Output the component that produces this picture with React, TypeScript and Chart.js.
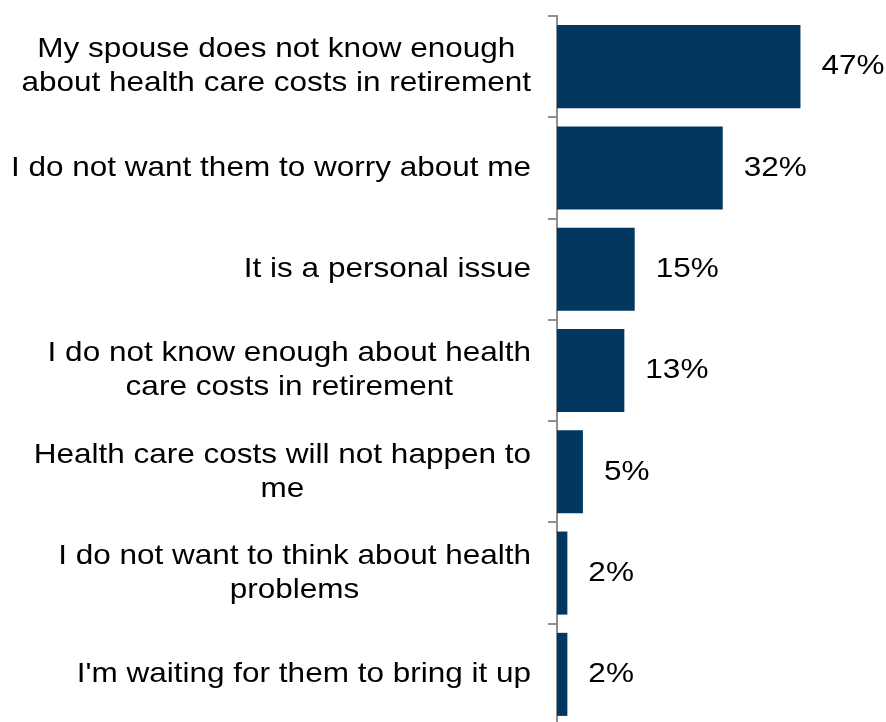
import React, { useEffect, useRef } from "react";
import { Chart, registerables } from "chart.js";

Chart.register(...registerables);

const categories: (string | string[])[] = [
  ["My spouse does not know enough", "about health care costs in retirement"],
  "I do not want them to worry about me",
  "It is a personal issue",
  ["I do not know enough about health", "care costs in retirement"],
  ["Health care costs will not happen to", "me"],
  ["I do not want to think about health", "problems"],
  "I'm waiting for them to bring it up",
];
const values: number[] = [47, 32, 15, 13, 5, 2, 2];
const valueLabels: string[] = ["47%", "32%", "15%", "13%", "5%", "2%", "2%"];

const FONT = "28px 'Liberation Sans', Arial, sans-serif";
const SX = 1.125;
const BAR_COLOR = "#023760";
const AXIS_COLOR = "#8f8f8f";

function drawText(ctx: CanvasRenderingContext2D, text: string, x: number, y: number, align: CanvasTextAlign) {
  ctx.save();
  ctx.translate(x, y);
  ctx.scale(SX, 1);
  ctx.textAlign = align;
  ctx.fillText(text, 0, 0);
  ctx.restore();
}

const labelPlugin = {
  id: "customLabels",
  afterDraw(chart: any) {
    const ctx = chart.ctx as CanvasRenderingContext2D;
    const yScale = chart.scales.y;
    const meta = chart.getDatasetMeta(0);
    ctx.save();
    ctx.font = FONT;
    ctx.fillStyle = "#000";
    ctx.textBaseline = "middle";
    const rightEdge = chart.chartArea.left - 26;
    const lineH = 34;
    categories.forEach((cat, i) => {
      const lines = Array.isArray(cat) ? cat : [cat];
      const maxW = Math.max(...lines.map((l) => ctx.measureText(l).width * SX));
      const cx = rightEdge - maxW / 2;
      const cy = yScale.getPixelForValue(i);
      lines.forEach((l, j) => {
        const y = cy + (j - (lines.length - 1) / 2) * lineH;
        drawText(ctx, l, cx, y, "center");
      });
    });
    meta.data.forEach((bar: any, i: number) => {
      drawText(ctx, valueLabels[i], bar.x + 21, bar.y, "left");
    });
    ctx.restore();
  },
};

export default function App() {
  const ref = useRef<HTMLCanvasElement>(null);
  useEffect(() => {
    if (!ref.current) return;
    const chart = new Chart(ref.current, {
      type: "bar",
      data: {
        labels: categories as any,
        datasets: [
          {
            data: values,
            backgroundColor: BAR_COLOR,
            barPercentage: 0.82,
            categoryPercentage: 1,
          },
        ],
      },
      options: {
        indexAxis: "y",
        animation: false,
        responsive: false,
        devicePixelRatio: 1,
        layout: { padding: { top: 16, bottom: 5, right: 70, left: 0 } },
        plugins: { legend: { display: false }, tooltip: { enabled: false } },
        scales: {
          x: { display: false, min: 0, max: 50 },
          y: {
            afterFit: (scale: any) => {
              scale.width = 557;
            },
            ticks: { display: false },
            grid: {
              display: true,
              drawOnChartArea: false,
              drawTicks: true,
              tickLength: 9,
              tickWidth: 2,
              offset: true,
              color: AXIS_COLOR,
              lineWidth: 2,
            },
            border: { display: true, color: AXIS_COLOR, width: 2 },
          },
        },
      },
      plugins: [labelPlugin],
    });
    return () => chart.destroy();
  }, []);
  return (
    <div
      style={{
        position: "absolute",
        left: 0,
        top: 0,
        width: 886,
        height: 722,
        overflow: "hidden",
        background: "#fff",
      }}
    >
      <canvas ref={ref} width={886} height={730} style={{ display: "block" }} />
    </div>
  );
}
